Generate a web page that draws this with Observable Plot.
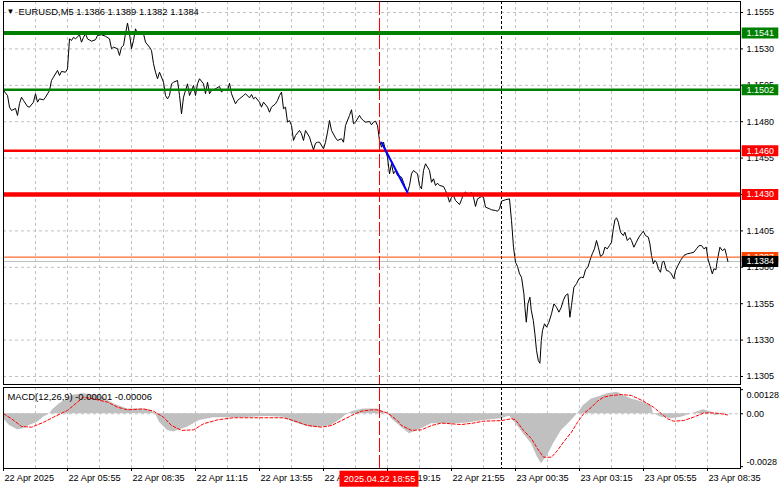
<!DOCTYPE html>
<html><head><meta charset="utf-8">
<script src="https://cdn.jsdelivr.net/npm/d3@7"></script>
<script src="https://cdn.jsdelivr.net/npm/@observablehq/plot@0.6"></script>
<style>
body{margin:0;background:#fff;}
#wrap{position:relative;width:781px;height:489px;overflow:hidden;background:#fff;}
#wrap svg{position:absolute;left:0;}
</style></head><body><div id="wrap"></div>
<script>
// ---------- data ----------
const symbolTitle = "EURUSD,M5 1.1386 1.1389 1.1382 1.1384";
const macdTitle = "MACD(12,26,9) -0.00001 -0.00006";
const bars = [
0,2,3,4,6,7,8,9,10,12,
13,15,16,17,18,20,21,23,24,25,
27,28,29,31,32,33,34,35,36,38,
39,40,41,42,44,46,47,49,51,53,
54,55,57,58,59,60,61,62,63,64,
65,66,67,68,70,71,73,74,75,76,
77,78,80,81,82,83,84,85,87,88,
89,90,92,93,94,95,96,97,98,100,
101,102,103,104,106,108,109,110,112,113,
114,116,117,118,120,121,123,124,125,126,
128,129,130,132,133,134,136,137,138,139,
140,141,142,143,144,145,146,148,149,150,
151,153,154,155,156,157,158,160,161,162,
163,164,166,167,169,170,171,173,174,175,
176,178,179,180,181,183,184,185,186,187,
188,189,190,191,192,193,194,195,196,197,
199,200,201,202,203,204,205,207,208,209,
210,211,213,214,215,216,217,218,220,221,
222,223,224,225,226,228,229,230,231,233,
234,235,236,237,239,240,241,243,244,246,
247,248,249,251,253,254,255,256,257,258,
259,260.2,260.7,261.4,262.2,263.2,263.9,264.9,265.7,266.5,
267.4,268.2,268.9,269.5,270.5,271.5,272.7,274,275.2,276.5,
277.7,278.9,279.9,281,282.2,283.2,284,285.2,286.5,287.7,
288.9,289.9,291,292.2,293.2,294.4,295.5,296.5,297.4,298.5,
299.7,300.7,301.9,303,304,304.9,305.7,306.5,307.4,308.5,
309.9,310.7,311.9,313.2,314,315.2,316.4,317.7,318.9,319.9,
321,322.4,323.2,324,324.9,325.7,326.5,327.4,328.5,329.4,
330.2,331.5,332.7,333.9,335.2,336,337.2,338.5,340.2,341.9,
343.5,345.2,346.5,347.7,349,350.2,351.4,352.2,353.2,354.4,
355.2,356.2,356.9,358.2,359.4,360.7,361.5,362.2];
const closes = [
1.15014,1.14980,1.14900,1.14877,1.14891,1.14843,1.14925,1.14968,1.14946,1.14904,
1.14900,1.14934,1.14992,1.14934,1.14957,1.14950,1.14968,1.15014,1.15083,1.15106,
1.15152,1.15117,1.15145,1.15140,1.15163,1.15369,1.15358,1.15380,1.15369,1.15397,
1.15346,1.15380,1.15404,1.15369,1.15353,1.15363,1.15392,1.15397,1.15387,1.15369,
1.15301,1.15312,1.15301,1.15255,1.15312,1.15323,1.15404,1.15477,1.15404,1.15301,
1.15358,1.15438,1.15404,1.15415,1.15404,1.15346,1.15312,1.15289,1.15198,1.15140,
1.15095,1.15140,1.15071,1.14980,1.14957,1.14980,1.15060,1.15071,1.15083,1.14980,
1.14854,1.14968,1.15060,1.14980,1.15014,1.15049,1.14980,1.15060,1.15095,1.15060,
1.14992,1.15071,1.14992,1.15014,1.15026,1.15042,1.15003,1.15019,1.15014,1.15064,
1.14992,1.14923,1.14946,1.14957,1.14980,1.14992,1.14964,1.14987,1.14957,1.14968,
1.14934,1.14900,1.14934,1.14900,1.14865,1.14900,1.14923,1.14946,1.14980,1.15003,
1.14889,1.14900,1.14797,1.14808,1.14774,1.14671,1.14705,1.14740,1.14717,1.14671,
1.14740,1.14694,1.14648,1.14607,1.14652,1.14659,1.14659,1.14614,1.14659,1.14728,
1.14808,1.14740,1.14689,1.14671,1.14683,1.14659,1.14774,1.14843,1.14882,1.14786,
1.14797,1.14843,1.14820,1.14808,1.14797,1.14801,1.14779,1.14797,1.14803,1.14774,
1.14671,1.14625,1.14659,1.14602,1.14556,1.14442,1.14511,1.14442,1.14465,1.14431,
1.14419,1.14384,1.14339,1.14316,1.14362,1.14442,1.14465,1.14442,1.14362,1.14339,
1.14465,1.14511,1.14465,1.14384,1.14408,1.14362,1.14378,1.14362,1.14355,1.14328,
1.14293,1.14247,1.14281,1.14293,1.14259,1.14231,1.14264,1.14305,1.14316,1.14293,
1.14316,1.14281,1.14218,1.14270,1.14286,1.14281,1.14213,1.14202,1.14195,1.14190,
1.14185,1.14202,1.14254,1.14264,1.14270,1.14121,1.13938,1.13835,1.13806,1.13755,
1.13732,1.13618,1.13526,1.13423,1.13549,1.13595,1.13503,1.13435,1.13343,1.13229,
1.13160,1.13141,1.13297,1.13366,1.13412,1.13389,1.13423,1.13481,1.13549,1.13526,
1.13492,1.13526,1.13572,1.13606,1.13618,1.13457,1.13538,1.13663,1.13687,1.13721,
1.13732,1.13728,1.13783,1.13801,1.13847,1.13893,1.13927,1.13984,1.13938,1.13874,
1.13888,1.13938,1.13927,1.13950,1.13972,1.14064,1.14126,1.14140,1.14110,1.14041,
1.14018,1.14041,1.13984,1.14003,1.13984,1.13938,1.13972,1.14007,1.14030,1.14048,
1.14018,1.14007,1.13961,1.13881,1.13824,1.13847,1.13835,1.13790,1.13766,1.13835,
1.13842,1.13778,1.13773,1.13755,1.13721,1.13778,1.13812,1.13847,1.13881,1.13893,
1.13897,1.13904,1.13927,1.13948,1.13950,1.13927,1.13938,1.13858,1.13812,1.13755,
1.13790,1.13783,1.13847,1.13938,1.13915,1.13927,1.13881,1.13840];

const priceTicks = [1.1555,1.1530,1.1505,1.1480,1.1455,1.1430,1.1405,1.1380,1.1355,1.1330,1.1305];
const greenLevels = [1.1541, 1.1502];
const redLevels = [1.1460, 1.1430];
const askPrice = 1.1387;
const bidPrice = 1.1384;
const trendBars = [189, 202];
const trendPrices = [1.14657, 1.14314];
const crossBar = 188;
const crossLabel = "2025.04.22 18:55";
const dayBreakBar = 249;
const timeTickBars = [0,32,64,96,128,160,192,224,256,288,320,352];
const timeTickLabels = ["22 Apr 2025","22 Apr 05:55","22 Apr 08:35","22 Apr 11:15","22 Apr 13:55","22 Apr 16:35","22 Apr 19:15","22 Apr 21:55","23 Apr 00:35","23 Apr 03:15","23 Apr 05:55","23 Apr 08:35"];

const histBars = [0,3,7,10,13,17,20,23,25,28,32,34,40,48,55,62,68,73,76,78,82,85,92,98,105,115,124,132,140,145,152,157,164,169,172,175,180,187,190,193,194,199,203,209,214,225,232,240,249,253,255,260,264,267,269,272,275,279,284,287,290,294,297,302,307,310,314,320,324,325,329,334,339,344,350,354,356,359,360,362];
const histVals = [-0.00026,-0.00062,-0.00085,-0.00079,-0.00062,-0.00045,-0.00018,0,0.00026,0.00053,0.00079,0.00097,0.00106,0.00097,0.00053,0.00026,0.00026,0.00021,0,-0.00045,-0.00089,-0.00097,-0.00071,-0.00036,-0.00021,-0.00021,-0.00018,-0.00014,-0.00018,-0.00045,-0.00067,-0.00074,-0.00062,-0.00026,0,0.00014,0.00026,0.00026,0.00009,-0.00009,-0.00026,-0.00071,-0.00106,-0.00079,-0.00053,-0.00053,-0.00049,-0.00036,-0.00026,-0.00012,-0.00036,-0.00106,-0.00159,-0.0023,-0.00265,-0.00221,-0.00159,-0.00089,-0.00036,0,0.00044,0.00079,0.00088,0.00106,0.00114,0.00097,0.00079,0.00061,0.00044,0,-0.00018,-0.00026,-0.00018,0,0.00021,0.00009,-0.00012,0,0.00004,-0.00001];
const sigBars = [0,4,9,14,20,25,32,37,40,45,52,57,62,70,75,80,84,89,95,100,107,115,140,145,152,159,164,169,174,179,184,187,192,197,199,204,209,214,219,224,229,235,240,249,254,256,260,264,267,270,274,277,280,284,287,290,294,297,300,304,309,314,320,325,329,332,335,340,345,350,355,359,362];
const sigVals = [0,-0.00026,-0.00067,-0.00071,-0.00045,-0.00018,0.00018,0.00062,0.00088,0.00079,0.00062,0.00035,0.00021,0.00026,0.00014,-0.00018,-0.00062,-0.00088,-0.00085,-0.00053,-0.00032,-0.00021,-0.00021,-0.00036,-0.00062,-0.00071,-0.00062,-0.00036,-0.00009,0.00014,0.00021,0.00021,0.00004,-0.00036,-0.00062,-0.00088,-0.00085,-0.00062,-0.00049,-0.00053,-0.00057,-0.00049,-0.00039,-0.00036,-0.00026,-0.00032,-0.00088,-0.00132,-0.00185,-0.0023,-0.0023,-0.00194,-0.0015,-0.00097,-0.00045,0,0.00035,0.00067,0.00088,0.00097,0.00102,0.00097,0.00067,0.00035,0,-0.00026,-0.00039,-0.00036,-0.00018,0.00004,0.00005,0,-0.00006];
const macdTicks = [0.00128, 0, -0.0028];
const macdTickLabels = ["0.00128", "0.00", "-0.0028"];

// ---------- build ----------
const FONT = '"Liberation Sans", Arial, sans-serif';
const GRID = "#c0c0c0";
const xDomain = [0, 368.5];
const gridBars = d3.range(16, 360, 16);
const priceData = bars.map((b, k) => ({bar: b, close: closes[k]}));
const trendData = trendBars.map((b, k) => ({bar: b, price: trendPrices[k]}));
const histData = histBars.map((b, k) => ({bar: b, v: histVals[k]}));
const sigData = sigBars.map((b, k) => ({bar: b, v: sigVals[k]}));
const boxX1 = 369.35, boxX2 = 387.65;

const main = Plot.plot({
  width: 781, height: 386,
  marginLeft: 3, marginRight: 41, marginTop: 1, marginBottom: 2,
  x: {domain: xDomain, axis: null},
  y: {domain: [1.129951, 1.156255], axis: null},
  style: {fontFamily: FONT, background: "#fff", overflow: "visible"},
  marks: [
    Plot.ruleY(priceTicks, {stroke: GRID, strokeDasharray: "3,3"}),
    Plot.ruleX(gridBars, {stroke: GRID, strokeDasharray: "3,3"}),
    Plot.ruleX([dayBreakBar], {stroke: "#000", strokeDasharray: "3,2"}),
    Plot.ruleY([bidPrice], {stroke: "#c0c0c0"}),
    Plot.line(priceData, {x: "bar", y: "close", stroke: "#000", strokeWidth: 1}),
    Plot.ruleY([askPrice], {stroke: "#ff4500"}),
    Plot.ruleY([greenLevels[0]], {stroke: "#008000", strokeWidth: 4}),
    Plot.ruleY([greenLevels[1]], {stroke: "#008000", strokeWidth: 2.5}),
    Plot.ruleY([redLevels[0]], {stroke: "#ff0000", strokeWidth: 2.5}),
    Plot.ruleY([redLevels[1]], {stroke: "#ff0000", strokeWidth: 4.5}),
    Plot.line(trendData, {x: "bar", y: "price", stroke: "#0000ff", strokeWidth: 2}),
    Plot.ruleX([crossBar], {stroke: "#ff0000", strokeDasharray: "14,3"}),
    Plot.frame({stroke: "#000"}),
    // right price scale
    Plot.ruleY(priceTicks, {x1: xDomain[1], x2: xDomain[1] + 1.5, stroke: "#000"}),
    Plot.text(priceTicks, {x: xDomain[1], y: d => d, text: d => d.toFixed(4), textAnchor: "start", dx: 6, fontSize: 9, fill: "#000"}),
    // level labels
    Plot.ruleY(greenLevels, {x1: boxX1, x2: boxX2, stroke: "#008000", strokeWidth: 11}),
    Plot.ruleY(redLevels, {x1: boxX1, x2: boxX2, stroke: "#ff0000", strokeWidth: 11}),
    Plot.ruleY([askPrice], {x1: boxX1, x2: boxX2, stroke: "#ff4500", strokeWidth: 10}),
    Plot.text(greenLevels.concat(redLevels, [askPrice]), {x: xDomain[1], y: d => d, text: d => d.toFixed(4), textAnchor: "start", dx: 6, fontSize: 9, fill: "#fff"}),
    Plot.ruleY([bidPrice], {x1: boxX1, x2: boxX2, stroke: "#000", strokeWidth: 11}),
    Plot.text([bidPrice], {x: xDomain[1], y: d => d, text: d => d.toFixed(4), textAnchor: "start", dx: 6, fontSize: 9, fill: "#fff"}),
    // title
    Plot.text(["\u25BC"], {frameAnchor: "top-left", dx: 7, dy: 10, fontSize: 8, fill: "#000", textAnchor: "middle", lineAnchor: "middle"}),
    Plot.text([symbolTitle], {frameAnchor: "top-left", dx: 15, dy: 10, fontSize: 9.4, fill: "#000", textAnchor: "start", lineAnchor: "middle"})
  ]
});

const macdDomain = [-0.0028984, 0.0013935];
const macd = Plot.plot({
  width: 781, height: 103,
  marginLeft: 3, marginRight: 41, marginTop: 1, marginBottom: 21,
  x: {domain: xDomain, axis: null},
  y: {domain: macdDomain, axis: null},
  style: {fontFamily: FONT, background: "#fff", overflow: "visible"},
  marks: [
    Plot.ruleX(gridBars, {stroke: GRID, strokeDasharray: "3,3"}),
    Plot.ruleY([0], {stroke: GRID, strokeDasharray: "3,3"}),
    Plot.areaY(histData, {x: "bar", y: "v", fill: "#c0c0c0"}),
    Plot.line(sigData, {x: "bar", y: "v", stroke: "#ff0000", strokeDasharray: "3,2", strokeWidth: 1}),
    Plot.ruleX([dayBreakBar], {stroke: "#000", strokeDasharray: "3,2"}),
    Plot.ruleX([crossBar], {stroke: "#ff0000", strokeDasharray: "14,3"}),
    Plot.frame({stroke: "#000"}),
    Plot.ruleY(macdTicks, {x1: xDomain[1], x2: xDomain[1] + 1.5, stroke: "#000"}),
    Plot.text([macdTicks[1]], {x: xDomain[1], y: d => d, text: () => macdTickLabels[1], textAnchor: "start", dx: 6, fontSize: 9, fill: "#000"}),
    Plot.text([macdTicks[0]], {x: xDomain[1], y: d => d, text: () => macdTickLabels[0], textAnchor: "start", dx: 6, dy: 5, fontSize: 9, fill: "#000"}),
    Plot.text([macdTicks[2]], {x: xDomain[1], y: d => d, text: () => macdTickLabels[2], textAnchor: "start", dx: 6, dy: -5, fontSize: 9, fill: "#000"}),
    // time axis
    Plot.ruleX(timeTickBars, {y1: macdDomain[0], y2: macdDomain[0], insetBottom: -3, stroke: "#000"}),
    Plot.text(timeTickBars, {x: d => d, y: macdDomain[0], text: (d, i) => timeTickLabels[i], textAnchor: "start", dx: 1, dy: 10, fontSize: 9.2, fill: "#000", lineAnchor: "middle"}),
    Plot.rect([crossBar], {x1: d => d - 19.75, x2: d => d + 19.75, y1: macdDomain[0], y2: macdDomain[0], insetTop: 2.7, insetBottom: -18.7, fill: "#ff0000"}),
    Plot.text([crossBar], {x: d => d, y: macdDomain[0], text: () => crossLabel, textAnchor: "middle", dy: 10.7, fontSize: 9.2, fill: "#fff", lineAnchor: "middle"}),
    Plot.text([macdTitle], {frameAnchor: "top-left", dx: 4, dy: 9, fontSize: 9.4, fill: "#000", textAnchor: "start", lineAnchor: "middle"})
  ]
});

const wrap = document.getElementById("wrap");
main.style.top = "0px";
macd.style.top = "386px";
wrap.appendChild(main);
wrap.appendChild(macd);
</script>
</body></html>
